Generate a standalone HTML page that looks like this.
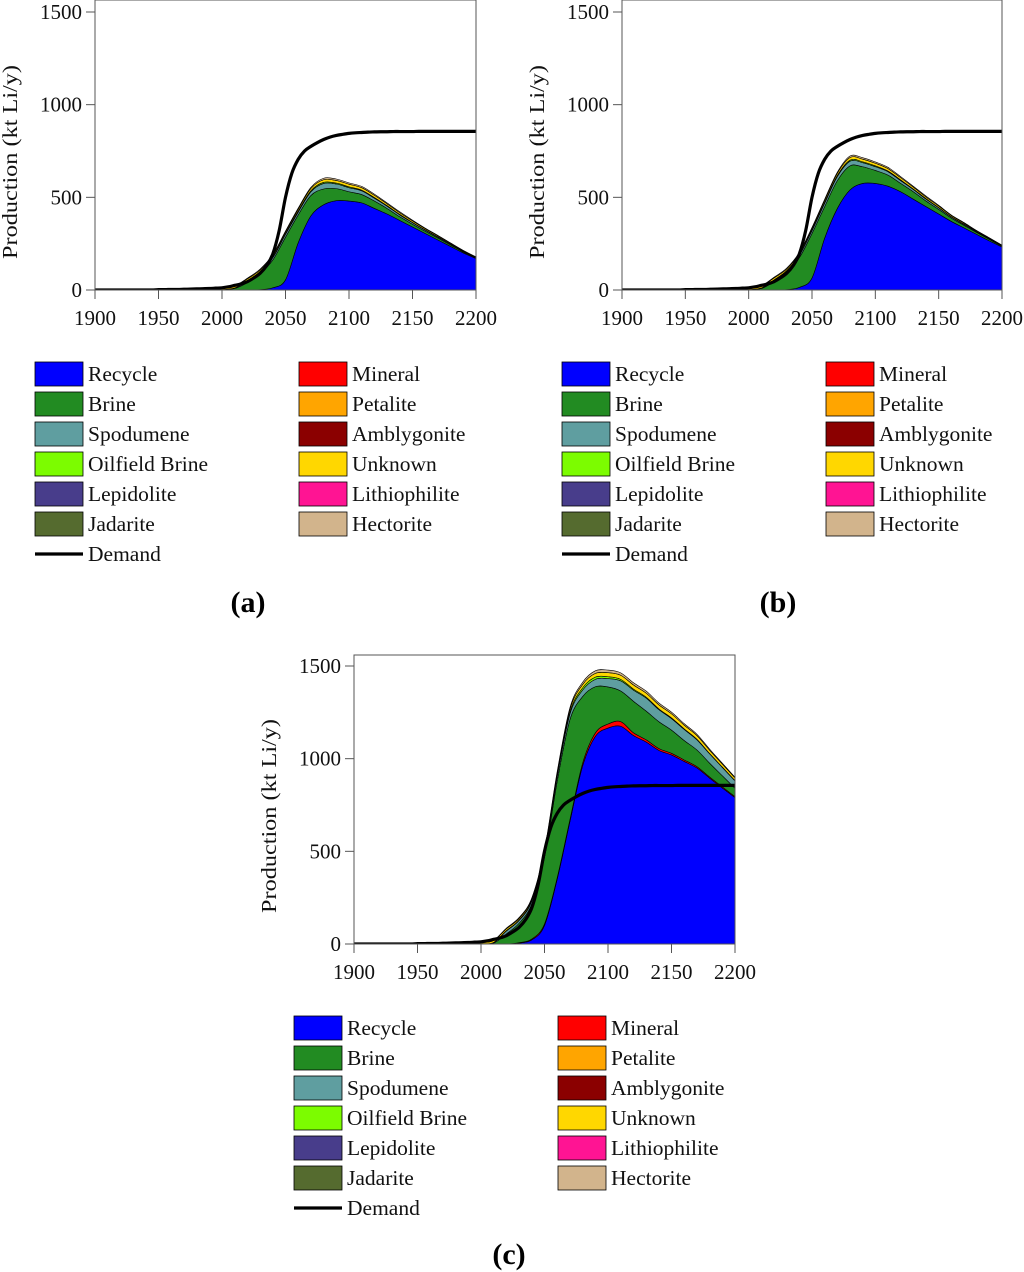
<!DOCTYPE html>
<html><head><meta charset="utf-8"><style>
html,body{margin:0;padding:0;background:#fff;}
svg{display:block;font-family:"Liberation Serif",serif;}
</style></head><body>
<svg id="chart" width="1024" height="1272" viewBox="0 0 1024 1272" xmlns="http://www.w3.org/2000/svg">
<g id="panels"></g>
<g id="legends"></g>
<text x="248" y="612" font-size="30" font-weight="bold" text-anchor="middle">(a)</text>
<text x="778" y="612" font-size="30" font-weight="bold" text-anchor="middle">(b)</text>
<text x="509" y="1264" font-size="30" font-weight="bold" text-anchor="middle">(c)</text>
</svg>
<script>
const years = [1900,1910,1920,1930,1940,1950,1960,1970,1980,1990,2000,2010,2020,2030,2040,2050,2060,2070,2080,2090,2100,2110,2120,2130,2140,2150,2160,2170,2180,2190,2200];
const demandYears = [1900,1905,1910,1915,1920,1925,1930,1935,1940,1945,1950,1955,1960,1965,1970,1975,1980,1985,1990,1995,2000,2005,2010,2015,2020,2025,2030,2035,2040,2045,2050,2055,2060,2065,2070,2075,2080,2085,2090,2095,2100,2105,2110,2115,2120,2125,2130,2135,2140,2145,2150,2155,2160,2165,2170,2175,2180,2185,2190,2195,2200];
const yTicks = [0,500,1000,1500];
const xTicks = [1900,1950,2000,2050,2100,2150,2200];
const demand = [0,0,0,0,0,0,0,0,0,0,2,2,3,3,4,5,6,7,8,10,12,17,25,33,45,65,90,130,195,320,500,630,705,750,775,795,812,825,834,840,845,848,850,852,853,854,854,855,855,855,855,856,856,856,856,856,856,856,856,856,856];

const recycleA = [0,0,0,0,0,0,0,0,0,0,0,0,0,2,12,55,255,400,460,482,480,470,440,410,375,340,305,270,235,200,170];
const brineA = [0,0,0,0,0,0,0,0,0,0,2,8,40,85,150,230,150,110,85,65,50,45,40,30,20,15,12,10,8,5,3];
const spodA = [0,0,0,0,0,0,0,0,0,0,0,2,8,10,12,15,15,20,30,25,22,20,15,12,10,8,6,5,4,3,2];
const oilAB = [0,0,0,0,0,0,0,0,0,0,0,1,2,3,4,5,6,6,6,5,5,4,4,3,3,2,2,2,1,1,1];
const unknownAB = [0,0,0,0,0,2,3,3,4,5,6,10,10,8,8,8,10,12,14,14,14,13,12,10,9,8,6,5,4,3,2];
const hectAB = [0,0,0,0,0,0,0,0,0,0,0,2,4,5,5,5,6,6,8,8,7,7,6,5,5,4,3,3,2,2,1];

const recycleB = [0,0,0,0,0,0,0,0,0,0,0,0,0,2,14,65,280,440,540,575,575,560,530,490,450,410,370,335,300,265,232];
const brineB = [0,0,0,0,0,0,0,0,0,0,2,8,45,90,160,240,170,150,130,90,70,60,45,40,30,25,18,14,10,8,4];
const spodB = [0,0,0,0,0,0,0,0,0,0,0,2,8,10,12,15,18,22,25,22,20,18,15,12,10,8,6,5,4,3,2];

const recycleC = [0,0,0,0,0,0,0,0,0,0,0,0,0,5,22,100,350,660,960,1120,1165,1175,1125,1090,1045,1020,985,950,895,842,790];
const mineralC = [0,0,0,0,0,0,0,0,0,0,0,0,0,2,5,8,8,10,15,18,22,25,15,12,10,9,8,7,6,6,5];
const brineC = [0,0,0,0,0,0,0,0,0,0,2,5,55,105,190,360,520,540,360,250,200,165,170,155,145,125,105,90,75,60,45];
const spodC = [0,0,0,0,0,0,0,0,0,0,0,3,15,15,15,20,25,30,35,40,45,55,60,70,65,62,60,55,50,45,40];
const oilC = [0,0,0,0,0,0,0,0,0,0,0,1,2,3,4,5,8,10,12,12,10,8,6,5,4,4,3,3,2,2,2];
const unknownC = [0,0,0,0,0,2,3,3,4,5,6,10,10,8,8,10,12,15,18,20,22,22,22,22,22,22,20,20,18,16,14];
const hectC = [0,0,0,0,0,0,0,0,0,0,0,2,4,5,5,6,8,10,12,14,14,13,12,11,10,9,8,7,6,5,4];

const NS = "http://www.w3.org/2000/svg";
const C = {Recycle:"#0000ff",Mineral:"#ff0000",Brine:"#228b22",Spodumene:"#5f9ea0","Oilfield Brine":"#7cfc00",Lepidolite:"#483d8b",Jadarite:"#556b2f",Petalite:"#ffa500",Amblygonite:"#8b0000",Unknown:"#ffd700",Lithiophilite:"#ff1493",Hectorite:"#d2b48c"};

const panels = [
 {id:"a", left:95, right:476, top:0, y0:290, y1500:12, ylabX:10,
  layers:[["Recycle",recycleA],["Brine",brineA],["Spodumene",spodA],["Oilfield Brine",oilAB],["Unknown",unknownAB],["Hectorite",hectAB]]},
 {id:"b", left:622, right:1002, top:0, y0:290, y1500:12, ylabX:537,
  layers:[["Recycle",recycleB],["Brine",brineB],["Spodumene",spodB],["Oilfield Brine",oilAB],["Unknown",unknownAB],["Hectorite",hectAB]]},
 {id:"c", left:354, right:735, top:655, y0:944, y1500:666, ylabX:269,
  layers:[["Recycle",recycleC],["Mineral",mineralC],["Brine",brineC],["Spodumene",spodC],["Oilfield Brine",oilC],["Unknown",unknownC],["Hectorite",hectC]]}
];

function smooth(pts, moveFirst){
  let d = moveFirst ? "M"+pts[0][0]+","+pts[0][1] : "L"+pts[0][0]+","+pts[0][1];
  for(let i=0;i<pts.length-1;i++){
    const p0=pts[Math.max(i-1,0)],p1=pts[i],p2=pts[i+1],p3=pts[Math.min(i+2,pts.length-1)];
    const c1x=p1[0]+(p2[0]-p0[0])/6, c1y=p1[1]+(p2[1]-p0[1])/6;
    const c2x=p2[0]-(p3[0]-p1[0])/6, c2y=p2[1]-(p3[1]-p1[1])/6;
    d+=" C"+c1x.toFixed(2)+","+c1y.toFixed(2)+" "+c2x.toFixed(2)+","+c2y.toFixed(2)+" "+p2[0].toFixed(2)+","+p2[1].toFixed(2);
  }
  return d;
}
function mk(tag, attrs, parent){
  const e=document.createElementNS(NS,tag);
  for(const k in attrs) e.setAttribute(k,attrs[k]);
  parent.appendChild(e); return e;
}

const root=document.getElementById("panels");
panels.forEach(p=>{
  const xs=yr=>p.left+(yr-1900)/300*(p.right-p.left);
  const ys=v=>p.y0-v/1500*(p.y0-p.y1500);
  const g=mk("g",{},root);
  
  
  const cp=mk("clipPath",{id:"clip"+p.id},g);
  mk("rect",{x:p.left,y:p.top,width:p.right-p.left,height:p.y0-p.top},cp);
  const pg=mk("g",{"clip-path":"url(#clip"+p.id+")"},g);
  let base=years.map(()=>0);
  p.layers.forEach(([name,arr])=>{
    const topv=base.map((b,i)=>b+arr[i]);
    const tp=years.map((yr,i)=>[xs(yr),ys(topv[i])]);
    const bp=years.map((yr,i)=>[xs(yr),ys(base[i])]).reverse();
    const path=mk("path",{d:smooth(tp,true)+" "+smooth(bp,false)+" Z",fill:C[name],stroke:"#000","stroke-width":"0.6","stroke-linejoin":"round"},pg);
    
    
    base=topv;
  });
  const dp=demandYears.map((yr,i)=>[xs(yr),ys(demand[i])]);
  const dl=mk("path",{d:smooth(dp,true),fill:"none",stroke:"#000","stroke-width":"3.2"},pg);
  
  
  const fr=mk("rect",{x:p.left,y:p.top,width:p.right-p.left,height:p.y0-p.top,fill:"none",stroke:"#555","stroke-width":"1"},g);
  
  
  yTicks.forEach(t=>{
    mk("line",{x1:p.left-9,x2:p.left,y1:ys(t),y2:ys(t),stroke:"#555","stroke-width":"1"},g);
    const tx=mk("text",{x:p.left-13,y:ys(t)+7,"font-size":"21","text-anchor":"end",fill:"#111"},g);
    tx.textContent=t;
    
    
  });
  xTicks.forEach(t=>{
    mk("line",{x1:xs(t),x2:xs(t),y1:p.y0,y2:p.y0+9,stroke:"#555","stroke-width":"1"},g);
    const tx=mk("text",{x:xs(t),y:p.y0+35,"font-size":"21","text-anchor":"middle",fill:"#111"},g);
    tx.textContent=t;
    
    
  });
  const cy=p.y0-135;
  const yl=mk("text",{x:p.ylabX,y:cy,"font-size":"21","text-anchor":"middle",textLength:"194",lengthAdjust:"spacingAndGlyphs",transform:"rotate(-90 "+(p.ylabX+7)+" "+cy+")",fill:"#111"},g);
  yl.textContent="Production (kt Li/y)";
  
  
});

const col1=["Recycle","Brine","Spodumene","Oilfield Brine","Lepidolite","Jadarite"];
const col2=["Mineral","Petalite","Amblygonite","Unknown","Lithiophilite","Hectorite"];
const legs=[{x1:35,x2:299,y:374},{x1:562,x2:826,y:374},{x1:294,x2:558,y:1028}];
const lroot=document.getElementById("legends");
legs.forEach((L,li)=>{
  const g=mk("g",{},lroot);
  
  
  [[col1,L.x1],[col2,L.x2]].forEach(([names,x])=>{
    names.forEach((n,i)=>{
      const cy=L.y+i*30;
      const eg=mk("g",{},g);
      
      
      mk("rect",{x:x,y:cy-12,width:48,height:24,fill:C[n],stroke:"#000","stroke-width":"0.8"},eg);
      const t=mk("text",{x:x+53,y:cy+7,"font-size":"21.5",fill:"#111"},eg);
      t.textContent=n;
    });
  });
  const dy=L.y+180;
  const eg=mk("g",{},g);
  
  
  mk("line",{x1:L.x1,x2:L.x1+48,y1:dy,y2:dy,stroke:"#000","stroke-width":"3.2"},eg);
  const t=mk("text",{x:L.x1+53,y:dy+7,"font-size":"21.5",fill:"#111"},eg);
  t.textContent="Demand";
});
</script>
</body></html>
